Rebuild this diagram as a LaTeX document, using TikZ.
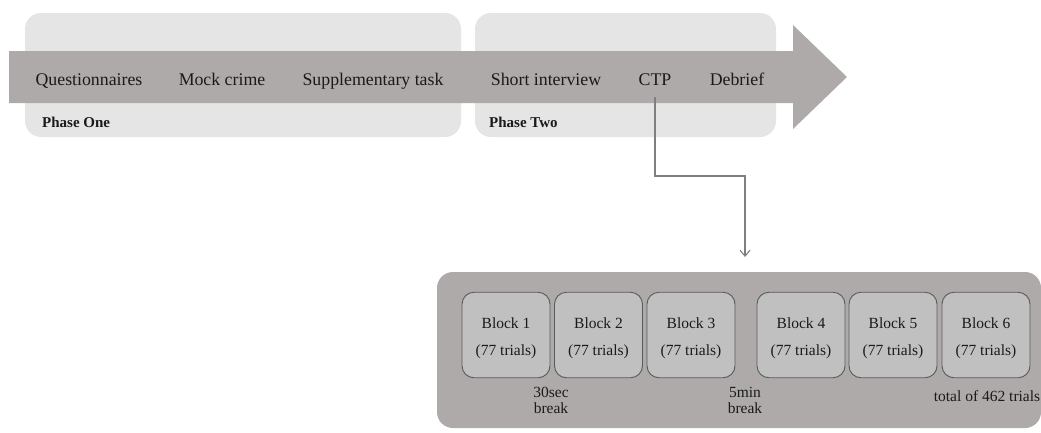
\documentclass[tikz,border=0pt]{standalone}
\usepackage{fontspec}
\setmainfont{Liberation Serif}
\usetikzlibrary{arrows.meta,calc}
\definecolor{phasebg}{HTML}{E5E5E5}
\definecolor{arrowgray}{HTML}{AEAAAA}
\definecolor{blockfill}{HTML}{C0C0C0}
\definecolor{blockline}{HTML}{5A5A5A}
\definecolor{linkgray}{HTML}{7F7F7F}
\definecolor{txt}{HTML}{1A1A1A}
\tikzset{
  phasebox/.style={fill=phasebg, draw=none, rounded corners=16pt},
  bigarrow/.style={fill=arrowgray, draw=none},
  steptext/.style={anchor=base, inner sep=0pt, text=txt, font=\fontsize{17.8pt}{20pt}\selectfont},
  phaselabel/.style={anchor=base west, inner sep=0pt, text=txt, font=\fontsize{15pt}{18pt}\selectfont\bfseries},
  ctpbox/.style={fill=arrowgray, draw=none, rounded corners=16pt},
  blockbox/.style={fill=blockfill, draw=blockline, line width=0.9pt, rounded corners=12pt, minimum width=88pt, minimum height=85.5pt, inner sep=0pt},
  smalltext/.style={anchor=base, inner sep=0pt, text=txt, font=\fontsize{15.5pt}{18pt}\selectfont},
  link/.style={draw=linkgray, line width=1.1pt, -{Straight Barb[length=6pt,width=10pt]}}
}
\begin{document}
\begin{tikzpicture}[x=1pt,y=-1pt]
\useasboundingbox (0,0) rectangle (1041,432);
% phase backgrounds
\path[phasebox] (25,13) rectangle (461,137);
\path[phasebox] (475,13) rectangle (776,137);
% big process arrow
\path[bigarrow] (9,51) -- (793,51) -- (793,25) -- (847,77) -- (793,129) -- (793,103) -- (9,103) -- cycle;
% step labels
\node[steptext] (quest) at (89,85.5) {Questionnaires};
\node[steptext] (mock) at (222,85.5) {Mock crime};
\node[steptext] (supp) at (373,85.5) {Supplementary task};
\node[steptext] (short) at (546,85.5) {Short interview};
\node[steptext] (ctp) at (655,85.5) {CTP};
\node[steptext] (debrief) at (737,85.5) {Debrief};
\node[phaselabel] (p1) at (42,127.5) {Phase One};
\node[phaselabel] (p2) at (489,127.5) {Phase Two};
% CTP detail box
\path[ctpbox] (437,272) rectangle (1041,428);
\coordinate (ctptop) at (745,272);
\node[blockbox] (b1) at (506,335) {};
\node[blockbox] (b2) at (598.5,335) {};
\node[blockbox] (b3) at (691,335) {};
\node[blockbox] (b4) at (801,335) {};
\node[blockbox] (b5) at (893,335) {};
\node[blockbox] (b6) at (986,335) {};
\foreach \n/\x in {1/506,2/598.5,3/691,4/801,5/893,6/986}{
  \node[smalltext] (bt\n) at (\x,328) {Block \n};
  \node[smalltext] (bn\n) at (\x,355.5) {(77 trials)};
}
\node[smalltext] (br1a) at (551,397.5) {30sec};
\node[smalltext] (br1b) at (551,413.5) {break};
\node[smalltext] (br2a) at (745,397.5) {5min};
\node[smalltext] (br2b) at (745,413.5) {break};
\node[smalltext] (total) at (987,401.5) {total of 462 trials};
% connector
\draw[link] ([yshift=-11.5pt]ctp.base) |- ($(ctptop)+(0,-96)$) -- ($(ctptop)+(0,-15)$);
\end{tikzpicture}
\end{document}
